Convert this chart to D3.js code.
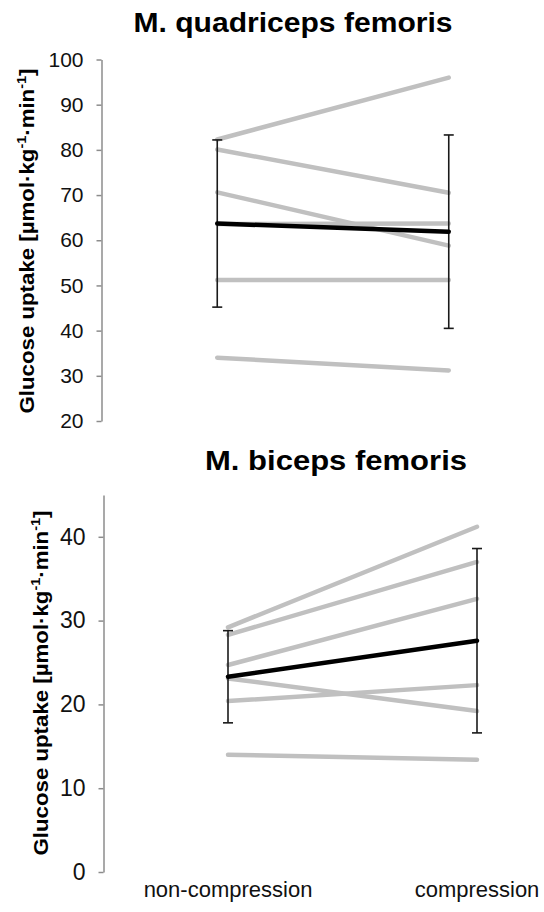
<!DOCTYPE html>
<html>
<head>
<meta charset="utf-8">
<script src="https://cdn.jsdelivr.net/npm/d3@7"></script>
<style>
  body { margin: 0; background: #fff; }
  svg { display: block; font-family: "Liberation Sans", Arial, sans-serif; }
</style>
</head>
<body>
<div id="chart"></div>
<script>
// categories on the x axis
const conditions = ["non-compression", "compression"];

// M. quadriceps femoris: one pair per subject
const quadNonCompression = [82.3, 80.1, 70.6, 63.6, 51.2, 34.0];
const quadCompression    = [96.0, 70.5, 58.8, 63.7, 51.2, 31.2];
const quadMean = [63.7, 61.9];
const quadSD   = [18.5, 21.4];
const quadTicks = [20, 30, 40, 50, 60, 70, 80, 90, 100];

// M. biceps femoris
const bicNonCompression = [29.2, 28.3, 24.7, 23.1, 20.4, 14.0];
const bicCompression    = [41.2, 37.0, 32.6, 19.2, 22.3, 13.4];
const bicMean = [23.3, 27.6];
const bicSD   = [5.5, 11.0];
const bicTicks = [0, 10, 20, 30, 40];

const width = 544, height = 912;

const svg = d3.select("#chart").append("svg")
    .attr("width", width)
    .attr("height", height);

function drawPanel(p) {
    let g = svg.append("g");

    let y = d3.scaleLinear()
        .domain(p.domain)
        .range([p.bottom, p.top]);

    let x = d3.scalePoint()
        .domain(conditions)
        .range([p.axisX, p.right])
        .padding(0.5);

    // title
    g.append("text")
        .attr("x", p.titleX)
        .attr("y", p.titleY)
        .attr("text-anchor", "middle")
        .attr("font-weight", "bold")
        .attr("font-size", 28)
        .attr("textLength", p.titleLen)
        .attr("lengthAdjust", "spacingAndGlyphs")
        .text(p.title);

    // y axis
    let axis = g.append("g")
        .attr("transform", "translate(" + p.axisX + ",0)")
        .call(d3.axisLeft(y).tickValues(p.ticks).tickSizeInner(5).tickSizeOuter(0).tickPadding(13));
    axis.select(".domain").attr("stroke", "#8c8c8c").attr("stroke-width", 1.5);
    axis.selectAll(".tick line").attr("stroke", "#8c8c8c").attr("stroke-width", 1.5);
    axis.selectAll(".tick text")
        .attr("font-size", p.tickSize)
        .attr("font-family", "Liberation Sans, Arial, sans-serif")
        .attr("fill", "#111");

    // axis title, rotated
    let t = g.append("text")
        .attr("transform", "translate(" + p.labelX + "," + p.labelY + ") rotate(-90)")
        .attr("text-anchor", "middle")
        .attr("font-weight", "bold")
        .attr("font-size", 20)
        .attr("textLength", 345)
        .attr("lengthAdjust", "spacingAndGlyphs");
    t.append("tspan").text("Glucose uptake [µmol·kg");
    t.append("tspan").attr("font-size", 13).attr("dy", -8).text("-1");
    t.append("tspan").attr("dy", 8).text("·min");
    t.append("tspan").attr("font-size", 13).attr("dy", -8).text("-1");
    t.append("tspan").attr("dy", 8).text("]");

    // individual subjects
    let pairs = p.before.map((d, i) => [d, p.after[i]]);
    let line = d3.line()
        .x((d, i) => x(conditions[i]))
        .y(d => y(d));

    g.selectAll(".subject")
        .data(pairs)
        .enter().append("path")
        .attr("class", "subject")
        .attr("d", line)
        .attr("fill", "none")
        .attr("stroke", "#c0c0c0")
        .attr("stroke-width", 4.5)
        .attr("stroke-linecap", "round");

    // error bars (mean +- SD)
    let bars = g.selectAll(".err")
        .data(p.mean.map((m, i) => ({c: conditions[i], m: m, sd: p.sd[i]})))
        .enter().append("g")
        .attr("class", "err")
        .attr("stroke", "#1a1a1a")
        .attr("stroke-width", 1.6);
    bars.append("line")
        .attr("x1", d => x(d.c)).attr("x2", d => x(d.c))
        .attr("y1", d => y(d.m - d.sd)).attr("y2", d => y(d.m + d.sd));
    bars.append("line")
        .attr("x1", d => x(d.c) - 5).attr("x2", d => x(d.c) + 5)
        .attr("y1", d => y(d.m + d.sd)).attr("y2", d => y(d.m + d.sd));
    bars.append("line")
        .attr("x1", d => x(d.c) - 5).attr("x2", d => x(d.c) + 5)
        .attr("y1", d => y(d.m - d.sd)).attr("y2", d => y(d.m - d.sd));

    // mean line
    g.append("path")
        .attr("d", line(p.mean))
        .attr("fill", "none")
        .attr("stroke", "#000")
        .attr("stroke-width", 4.5)
        .attr("stroke-linecap", "round");

    return x;
}

drawPanel({
    title: "M. quadriceps femoris", titleX: 293, titleY: 32, titleLen: 319,
    domain: [20, 100], top: 59.5, bottom: 421, ticks: quadTicks, tickSize: 21,
    axisX: 101.5, right: 564.5,
    labelX: 34, labelY: 241,
    before: quadNonCompression, after: quadCompression,
    mean: quadMean, sd: quadSD
});

let xBottom = drawPanel({
    title: "M. biceps femoris", titleX: 336, titleY: 470, titleLen: 262,
    domain: [0, 45], top: 494.9, bottom: 872, ticks: bicTicks, tickSize: 23,
    axisX: 103.5, right: 601.5,
    labelX: 48, labelY: 683,
    before: bicNonCompression, after: bicCompression,
    mean: bicMean, sd: bicSD
});

// category labels under the bottom panel
svg.selectAll(".cat")
    .data(conditions)
    .enter().append("text")
    .attr("class", "cat")
    .attr("x", d => xBottom(d))
    .attr("y", 897)
    .attr("text-anchor", "middle")
    .attr("font-size", 22)
    .attr("fill", "#111")
    .text(d => d);
</script>
</body>
</html>
